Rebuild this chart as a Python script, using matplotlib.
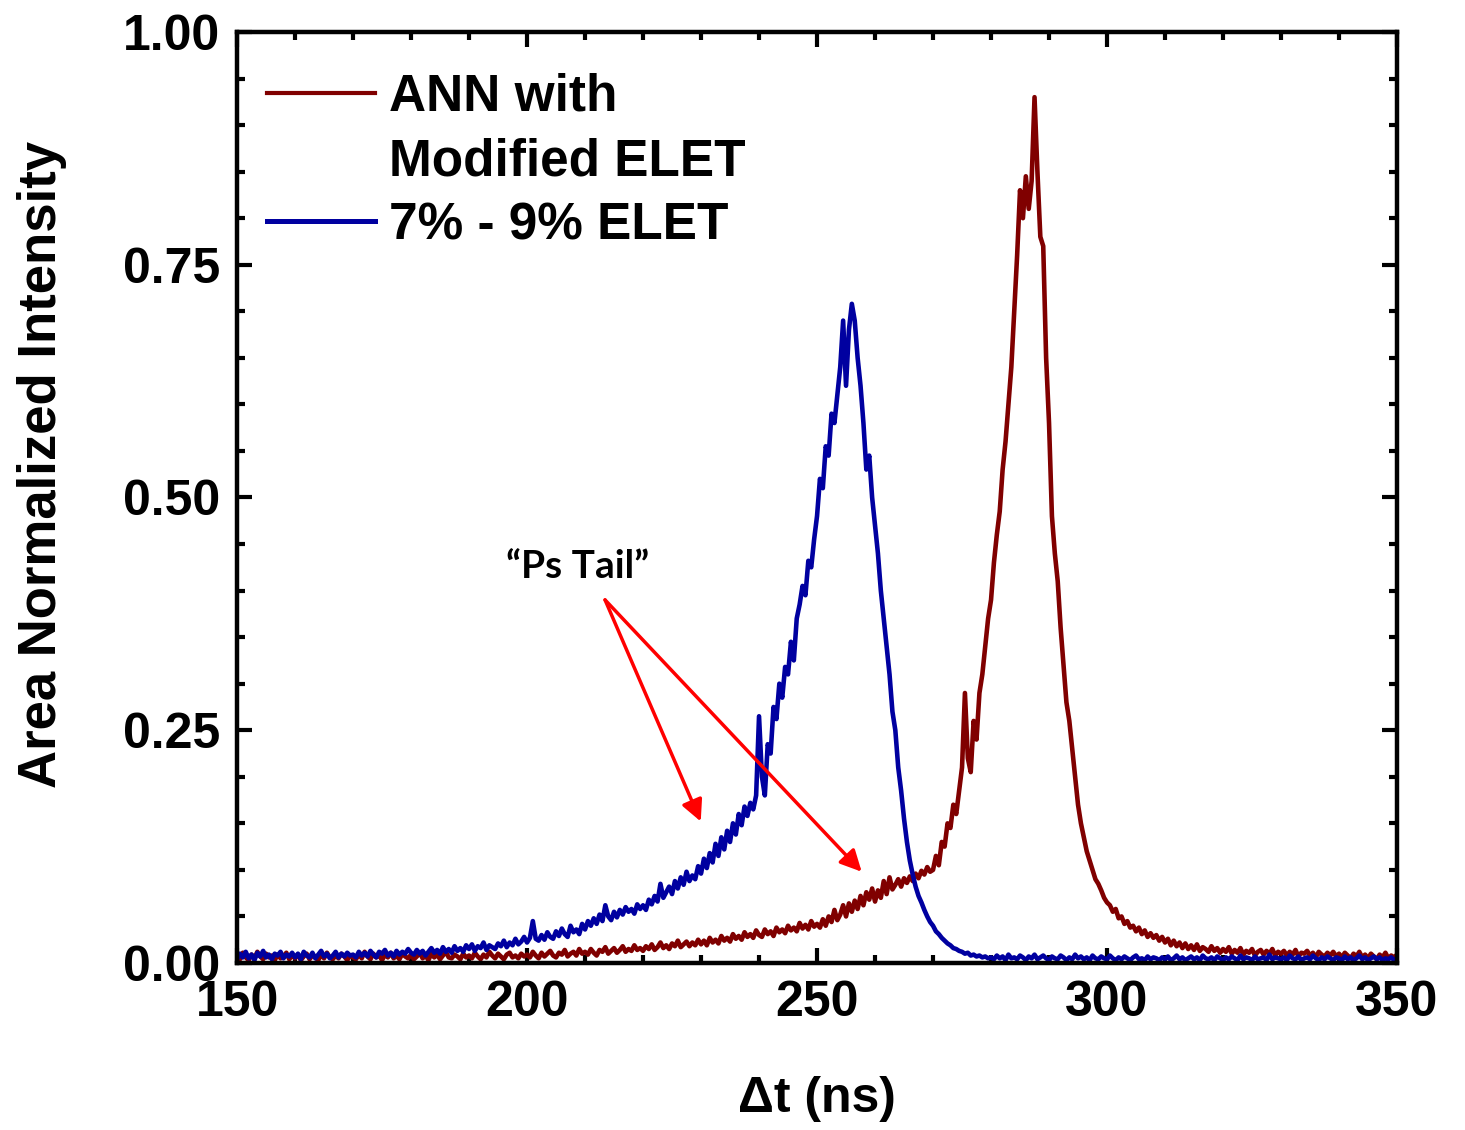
import matplotlib
import numpy as np

matplotlib.use("Agg")
import matplotlib.pyplot as plt  # noqa: E402
from matplotlib.lines import Line2D  # noqa: E402
from matplotlib.ticker import MultipleLocator  # noqa: E402

# time axis: 0.5 ns bins from 150 to 350 ns
dt = np.linspace(150, 350, 401)

# "ANN with Modified ELET" (10 ns per row)
ann = [
    0.008, 0.004, 0.011, 0.006, 0.003, 0.009, 0.005, 0.012, 0.007, 0.004, 0.010, 0.006, 0.008, 0.003, 0.009, 0.005, 0.007, 0.011, 0.004, 0.008,
    0.005, 0.009, 0.003, 0.007, 0.010, 0.004, 0.008, 0.006, 0.003, 0.009, 0.005, 0.011, 0.006, 0.004, 0.008, 0.005, 0.010, 0.007, 0.003, 0.008,
    0.006, 0.004, 0.009, 0.005, 0.012, 0.007, 0.004, 0.010, 0.006, 0.008, 0.003, 0.009, 0.006, 0.011, 0.005, 0.008, 0.004, 0.010, 0.007, 0.005,
    0.009, 0.004, 0.007, 0.011, 0.005, 0.008, 0.003, 0.010, 0.006, 0.009, 0.004, 0.008, 0.012, 0.006, 0.005, 0.009, 0.007, 0.004, 0.010, 0.006,
    0.008, 0.005, 0.011, 0.007, 0.004, 0.009, 0.006, 0.012, 0.008, 0.005, 0.010, 0.007, 0.004, 0.009, 0.011, 0.006, 0.008, 0.005, 0.010, 0.007,
    0.009, 0.006, 0.012, 0.008, 0.005, 0.011, 0.007, 0.010, 0.013, 0.008, 0.006, 0.011, 0.009, 0.014, 0.007, 0.010, 0.012, 0.008, 0.015, 0.010,
    0.012, 0.009, 0.015, 0.011, 0.008, 0.014, 0.012, 0.017, 0.010, 0.013, 0.016, 0.011, 0.014, 0.018, 0.012, 0.015, 0.013, 0.019, 0.014, 0.016,
    0.013, 0.018, 0.015, 0.020, 0.014, 0.017, 0.022, 0.016, 0.019, 0.015, 0.021, 0.018, 0.024, 0.017, 0.020, 0.023, 0.018, 0.022, 0.019, 0.025,
    0.020, 0.024, 0.019, 0.027, 0.022, 0.025, 0.021, 0.029, 0.024, 0.027, 0.023, 0.031, 0.026, 0.029, 0.025, 0.033, 0.028, 0.031, 0.027, 0.035,
    0.030, 0.028, 0.036, 0.031, 0.034, 0.029, 0.038, 0.033, 0.036, 0.032, 0.040, 0.035, 0.038, 0.034, 0.043, 0.037, 0.041, 0.036, 0.045, 0.039,
    0.042, 0.038, 0.047, 0.040, 0.050, 0.044, 0.057, 0.046, 0.052, 0.062, 0.050, 0.064, 0.055, 0.067, 0.058, 0.072, 0.062, 0.076, 0.068, 0.080,
    0.066, 0.078, 0.070, 0.088, 0.074, 0.092, 0.079, 0.084, 0.090, 0.082, 0.091, 0.086, 0.093, 0.088, 0.096, 0.091, 0.099, 0.095, 0.103, 0.098,
    0.100, 0.115, 0.105, 0.130, 0.125, 0.150, 0.145, 0.170, 0.160, 0.185, 0.210, 0.290, 0.220, 0.205, 0.260, 0.240, 0.290, 0.310, 0.340, 0.370,
    0.390, 0.430, 0.460, 0.485, 0.530, 0.560, 0.600, 0.640, 0.700, 0.760, 0.830, 0.800, 0.845, 0.810, 0.840, 0.930, 0.850, 0.780, 0.770, 0.650,
    0.580, 0.480, 0.440, 0.410, 0.360, 0.320, 0.280, 0.260, 0.230, 0.200, 0.170, 0.150, 0.135, 0.120, 0.110, 0.100, 0.090, 0.085, 0.078, 0.070,
    0.065, 0.062, 0.055, 0.058, 0.048, 0.050, 0.042, 0.045, 0.038, 0.040, 0.034, 0.038, 0.031, 0.035, 0.028, 0.032, 0.027, 0.030, 0.024, 0.028,
    0.022, 0.026, 0.019, 0.024, 0.018, 0.022, 0.016, 0.021, 0.015, 0.019, 0.014, 0.020, 0.013, 0.017, 0.015, 0.012, 0.018, 0.013, 0.016, 0.011,
    0.015, 0.012, 0.017, 0.010, 0.014, 0.011, 0.016, 0.009, 0.013, 0.011, 0.015, 0.008, 0.012, 0.014, 0.009, 0.013, 0.010, 0.015, 0.008, 0.012,
    0.010, 0.013, 0.008, 0.012, 0.009, 0.014, 0.007, 0.011, 0.010, 0.013, 0.008, 0.011, 0.006, 0.012, 0.009, 0.007, 0.011, 0.008, 0.012, 0.007,
    0.010, 0.006, 0.011, 0.008, 0.005, 0.010, 0.007, 0.012, 0.006, 0.009, 0.005, 0.010, 0.007, 0.004, 0.009, 0.006, 0.011, 0.005, 0.008, 0.006,
    0.009,
]

# "7% - 9% ELET"
elet = [
    0.004, 0.010, 0.006, 0.012, 0.005, 0.009, 0.003, 0.011, 0.007, 0.013, 0.006, 0.009, 0.004, 0.010, 0.008, 0.012, 0.005, 0.009, 0.007, 0.011,
    0.006, 0.010, 0.004, 0.012, 0.008, 0.006, 0.011, 0.005, 0.009, 0.013, 0.007, 0.010, 0.005, 0.008, 0.012, 0.006, 0.010, 0.007, 0.011, 0.008,
    0.009, 0.006, 0.012, 0.008, 0.011, 0.007, 0.013, 0.009, 0.006, 0.012, 0.010, 0.014, 0.008, 0.011, 0.007, 0.013, 0.009, 0.012, 0.010, 0.015,
    0.011, 0.009, 0.014, 0.010, 0.013, 0.008, 0.012, 0.016, 0.011, 0.014, 0.010, 0.017, 0.012, 0.015, 0.011, 0.018, 0.013, 0.016, 0.012, 0.019,
    0.015, 0.020, 0.013, 0.018, 0.016, 0.022, 0.014, 0.019, 0.017, 0.015, 0.021, 0.018, 0.024, 0.017, 0.022, 0.019, 0.026, 0.020, 0.023, 0.028,
    0.022, 0.027, 0.045, 0.026, 0.024, 0.030, 0.025, 0.033, 0.028, 0.026, 0.034, 0.029, 0.037, 0.031, 0.028, 0.040, 0.033, 0.036, 0.031, 0.042,
    0.036, 0.045, 0.040, 0.048, 0.042, 0.052, 0.045, 0.062, 0.050, 0.046, 0.055, 0.049, 0.057, 0.052, 0.060, 0.055, 0.058, 0.053, 0.063, 0.058,
    0.062, 0.057, 0.068, 0.063, 0.072, 0.066, 0.085, 0.070, 0.076, 0.082, 0.074, 0.088, 0.080, 0.092, 0.084, 0.098, 0.088, 0.094, 0.090, 0.104,
    0.096, 0.112, 0.102, 0.118, 0.108, 0.128, 0.115, 0.135, 0.122, 0.142, 0.130, 0.150, 0.138, 0.160, 0.148, 0.168, 0.158, 0.172, 0.165, 0.180,
    0.265, 0.200, 0.180, 0.235, 0.225, 0.275, 0.262, 0.300, 0.285, 0.318, 0.310, 0.345, 0.325, 0.370, 0.385, 0.405, 0.395, 0.432, 0.425, 0.455,
    0.480, 0.520, 0.510, 0.555, 0.545, 0.590, 0.580, 0.610, 0.640, 0.690, 0.620, 0.680, 0.708, 0.690, 0.650, 0.620, 0.580, 0.530, 0.545, 0.500,
    0.470, 0.440, 0.400, 0.370, 0.340, 0.310, 0.270, 0.250, 0.210, 0.185, 0.155, 0.130, 0.110, 0.095, 0.082, 0.072, 0.065, 0.057, 0.050, 0.044,
    0.040, 0.034, 0.031, 0.027, 0.024, 0.021, 0.019, 0.016, 0.015, 0.013, 0.012, 0.010, 0.011, 0.008, 0.009, 0.007, 0.008, 0.006, 0.007, 0.005,
    0.006, 0.004, 0.008, 0.005, 0.007, 0.003, 0.009, 0.005, 0.006, 0.004, 0.008, 0.006, 0.003, 0.007, 0.005, 0.009, 0.004, 0.006, 0.008, 0.005,
    0.003, 0.007, 0.005, 0.004, 0.008, 0.006, 0.003, 0.006, 0.004, 0.009, 0.005, 0.007, 0.004, 0.006, 0.003, 0.008, 0.005, 0.004, 0.007, 0.005,
    0.004, 0.008, 0.005, 0.003, 0.006, 0.004, 0.007, 0.005, 0.003, 0.006, 0.008, 0.004, 0.005, 0.003, 0.007, 0.004, 0.006, 0.005, 0.003, 0.006,
    0.004, 0.007, 0.003, 0.005, 0.008, 0.004, 0.006, 0.003, 0.005, 0.007, 0.004, 0.006, 0.003, 0.008, 0.005, 0.004, 0.006, 0.003, 0.007, 0.005,
    0.003, 0.006, 0.004, 0.007, 0.005, 0.003, 0.008, 0.004, 0.006, 0.005, 0.003, 0.007, 0.004, 0.005, 0.006, 0.003, 0.009, 0.004, 0.006, 0.005,
    0.004, 0.006, 0.003, 0.008, 0.005, 0.004, 0.007, 0.003, 0.005, 0.006, 0.004, 0.008, 0.005, 0.003, 0.006, 0.004, 0.007, 0.005, 0.003, 0.006,
    0.005, 0.003, 0.007, 0.004, 0.006, 0.003, 0.005, 0.008, 0.004, 0.006, 0.003, 0.005, 0.007, 0.004, 0.006, 0.003, 0.005, 0.004, 0.006, 0.003,
    0.005,
]

labels = ["ANN with", "Modified ELET", "7% - 9% ELET"]
RED, BLUE = "#800000", "#0000a0"


def main() -> None:
    plt.rcParams["font.family"] = ["Liberation Sans", "DejaVu Sans"]
    plt.rcParams["font.weight"] = "bold"

    fig = plt.figure(figsize=(14.65, 11.3), dpi=100)
    ax = fig.add_axes([0.1618, 0.1478, 0.7918, 0.8239])

    ax.plot(dt, ann, color=RED, lw=3.3)
    ax.plot(dt, elet, color=BLUE, lw=3.3)

    ax.set_xlim(150, 350)
    ax.set_ylim(0, 1)
    ax.xaxis.set_major_locator(MultipleLocator(50))
    ax.xaxis.set_minor_locator(MultipleLocator(10))
    ax.yaxis.set_major_locator(MultipleLocator(0.25))
    ax.yaxis.set_minor_locator(MultipleLocator(0.05))
    ax.yaxis.set_major_formatter(matplotlib.ticker.FormatStrFormatter("%.2f"))
    for s in ax.spines.values():
        s.set_linewidth(3.2)
    ax.tick_params(which="both", direction="in", top=True, right=True, width=3)
    ax.tick_params(which="major", length=11, labelsize=36)
    ax.tick_params(which="minor", length=6)
    ax.tick_params(axis="x", which="major", pad=12)
    ax.tick_params(axis="y", which="major", pad=12)

    ax.set_xlabel("Δt (ns)", fontsize=36, fontweight="bold", labelpad=36)
    ax.set_ylabel("Area Normalized Intensity", fontsize=38, fontweight="bold")
    ax.yaxis.set_label_coords(-0.147, 0.535)

    handles = [Line2D([], [], color=RED, lw=3),
               Line2D([], [], color="none", lw=3),
               Line2D([], [], color=BLUE, lw=3.6)]
    ax.legend(handles, labels, loc="upper left", bbox_to_anchor=(-0.005, 0.995),
              frameon=False, fontsize=37, handlelength=2.1, handletextpad=0.27,
              labelspacing=0.3, borderaxespad=0.3)

    ax.annotate("“Ps Tail”", xy=(208.7, 0.426), ha="center", va="center",
                fontsize=28, fontweight="bold", family=["Lato", "DejaVu Sans"])
    for tip in [(229.95, 0.152), (257.7, 0.098)]:
        ax.annotate("", xy=tip, xytext=(213.45, 0.390),
                    arrowprops=dict(arrowstyle="-|>", color="red", lw=2.5,
                                    mutation_scale=32, shrinkA=0, shrinkB=0))

    fig.savefig("out.png", dpi=100)


if __name__ == "__main__":
    main()
